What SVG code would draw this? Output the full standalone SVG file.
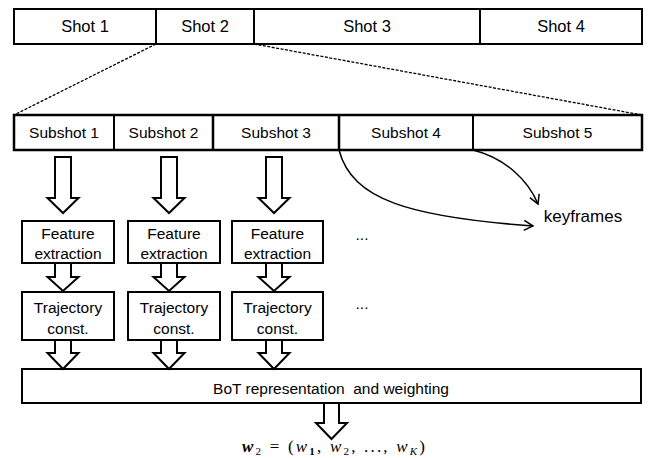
<svg xmlns="http://www.w3.org/2000/svg" width="656" height="458" viewBox="0 0 656 458">
<style>
.box{fill:#fff;stroke:#000;stroke-width:2}
.bar{fill:#fff;stroke:#000;stroke-width:2.5}
.div{stroke:#000;stroke-width:2;fill:none}
.t{font-family:"Liberation Sans",Arial,sans-serif;font-size:15.5px;fill:#000;text-anchor:middle;dominant-baseline:central}
.blk{fill:#fff;stroke:#000;stroke-width:2;stroke-linejoin:miter}
.dash{stroke:#000;stroke-width:1.3;stroke-dasharray:3,1.5;fill:none}
.cur{stroke:#000;stroke-width:1.5;fill:none}
.m{font-family:"Liberation Serif","Times New Roman",serif;font-size:17px;fill:#000}
</style>
<defs>
<marker id="open" markerWidth="12" markerHeight="12" refX="10" refY="6" orient="auto" markerUnits="userSpaceOnUse">
<path d="M1,1 L10,6 L1,11" fill="none" stroke="#000" stroke-width="1.5"/>
</marker>
</defs>
<g id="shots">
<rect class="box" x="14" y="9" width="628" height="35"/>
<line class="div" x1="156" y1="9" x2="156" y2="44"/>
<line class="div" x1="254" y1="9" x2="254" y2="44"/>
<line class="div" x1="480" y1="9" x2="480" y2="44"/>
<text class="t" x="85" y="26" style="font-size:16.5px">Shot 1</text>
<text class="t" x="205" y="26" style="font-size:16.5px">Shot 2</text>
<text class="t" x="367" y="26" style="font-size:16.5px">Shot 3</text>
<text class="t" x="561" y="26" style="font-size:16.5px">Shot 4</text>
</g>
<g id="subshots">
<rect class="bar" x="14" y="115" width="628" height="35"/>
<line class="div" x1="114" y1="115" x2="114" y2="150"/>
<line class="div" x1="213" y1="115" x2="213" y2="150" style="stroke-width:2.5"/>
<line class="div" x1="339" y1="115" x2="339" y2="150" style="stroke-width:2.5"/>
<line class="div" x1="473" y1="115" x2="473" y2="150"/>
<text class="t" x="64" y="132">Subshot 1</text>
<text class="t" x="163.5" y="132">Subshot 2</text>
<text class="t" x="276" y="132">Subshot 3</text>
<text class="t" x="406" y="132">Subshot 4</text>
<text class="t" x="557.5" y="132">Subshot 5</text>
</g>
<g id="feature1"><rect class="box" x="22" y="221" width="92" height="42"/><text class="t" x="68" y="233">Feature</text><text class="t" x="68" y="253">extraction</text></g>
<g id="feature2"><rect class="box" x="128" y="221" width="92" height="42"/><text class="t" x="174" y="233">Feature</text><text class="t" x="174" y="253">extraction</text></g>
<g id="feature3"><rect class="box" x="232" y="221" width="91" height="42"/><text class="t" x="277.5" y="233">Feature</text><text class="t" x="277.5" y="253">extraction</text></g>
<g id="traj1"><rect class="box" x="22" y="292" width="92" height="48"/><text class="t" x="68" y="307">Trajectory</text><text class="t" x="68" y="328">const.</text></g>
<g id="traj2"><rect class="box" x="128" y="292" width="92" height="48"/><text class="t" x="174" y="307">Trajectory</text><text class="t" x="174" y="328">const.</text></g>
<g id="traj3"><rect class="box" x="232" y="292" width="91" height="48"/><text class="t" x="277.5" y="307">Trajectory</text><text class="t" x="277.5" y="328">const.</text></g>
<g id="bot"><rect class="box" x="22" y="369" width="619" height="34"/><text class="t" x="331" y="388" xml:space="preserve">BoT representation  and weighting</text></g>
<g id="dots">
<text class="t" x="362" y="234">...</text>
<text class="t" x="362" y="303">...</text>
</g>
<g id="keyframes"><text class="t" x="583" y="216" style="font-size:17px">keyframes</text></g>
<g id="output">
<text class="m" x="242" y="452" textLength="183" lengthAdjust="spacing"><tspan font-style="italic" font-weight="bold">w</tspan><tspan font-size="11" dy="3">2</tspan><tspan dy="-3"> = (</tspan><tspan font-style="italic">w</tspan><tspan font-size="11" dy="3" font-weight="bold">1</tspan><tspan dy="-3">, </tspan><tspan font-style="italic">w</tspan><tspan font-size="11" dy="3">2</tspan><tspan dy="-3">, ..., </tspan><tspan font-style="italic">w</tspan><tspan font-size="11" dy="3" font-style="italic">K</tspan><tspan dy="-3">)</tspan></text>
</g>
<g id="connectors">
<line class="dash" x1="156" y1="44" x2="14" y2="115"/>
<line class="dash" x1="254" y1="44" x2="642" y2="115"/>
<polygon class="blk" points="55,157 71,157 71,198 78.5,198 63,213 47.5,198 55,198"/>
<polygon class="blk" points="161,157 177,157 177,198 184.5,198 169,213 153.5,198 161,198"/>
<polygon class="blk" points="266,157 282,157 282,198 289.5,198 274,213 258.5,198 266,198"/>
<polygon class="blk" points="55,263 71,263 71,277 78.5,277 63,291 47.5,277 55,277"/>
<polygon class="blk" points="161,263 177,263 177,277 184.5,277 169,291 153.5,277 161,277"/>
<polygon class="blk" points="266,263 282,263 282,277 289.5,277 274,291 258.5,277 266,277"/>
<polygon class="blk" points="55,340 71,340 71,353 78.5,353 63,369 47.5,353 55,353"/>
<polygon class="blk" points="161,340 177,340 177,353 184.5,353 169,369 153.5,353 161,353"/>
<polygon class="blk" points="266,340 282,340 282,353 289.5,353 274,369 258.5,353 266,353"/>
<polygon class="blk" points="324,403 339,403 339,423 347,423 331.5,439 316,423 324,423"/>
<path class="cur" d="M339,150 C352,200 410,217 533,226" marker-end="url(#open)"/>
<path class="cur" d="M473,150 C505,158 528,180 538,204" marker-end="url(#open)"/>
</g>
</svg>
